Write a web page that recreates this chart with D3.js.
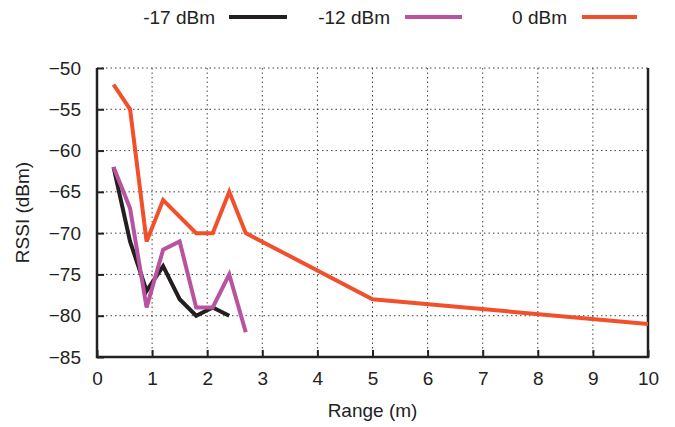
<!DOCTYPE html>
<html>
<head>
<meta charset="utf-8" />
<script src="https://cdn.jsdelivr.net/npm/d3@7"></script>
<title>rssi</title>
<style>
body { margin: 0; background: #fff; }
text { font-family: "Liberation Sans", Arial, sans-serif; fill: #222; }
</style>
</head>
<body>
<script>
// range in metres
var rangeLow = [0.3, 0.6, 0.9, 1.2, 1.5, 1.8, 2.1, 2.4];
var rssiM17 = [-62, -71, -77, -74, -78, -80, -79, -80];

var rangeMid = [0.3, 0.6, 0.9, 1.2, 1.5, 1.8, 2.1, 2.4, 2.7];
var rssiM12 = [-62, -67, -79, -72, -71, -79, -79, -75, -82];

var rangeHigh = [0.3, 0.6, 0.9, 1.2, 1.8, 2.1, 2.4, 2.7, 5, 10];
var rssi0 = [-52, -55, -71, -66, -70, -70, -65, -70, -78, -81];

var xTicks = [0, 1, 2, 3, 4, 5, 6, 7, 8, 9, 10];
var yTicks = [-85, -80, -75, -70, -65, -60, -55, -50];

var series = [
  { name: "-17 dBm", xs: rangeLow, ys: rssiM17, color: "#231f20" },
  { name: "-12 dBm", xs: rangeMid, ys: rssiM12, color: "#b9529f" },
  { name: "0 dBm", xs: rangeHigh, ys: rssi0, color: "#f1502a" }
];

var w = 675, h = 427;
var pl = 97, pr = 648, pt = 68, pb = 357;
var fs = "19px";

var svg = d3.select("body").append("svg")
  .attr("width", w)
  .attr("height", h);

var x = d3.scaleLinear().domain([0, 10]).range([pl, pr]);
var y = d3.scaleLinear().domain([-85, -50]).range([pb, pt]);

// grid
var grid = svg.append("g")
  .attr("stroke", "#444")
  .attr("stroke-width", 1)
  .attr("stroke-dasharray", "1.5,3");
grid.selectAll(".gx").data(xTicks.slice(1, -1)).enter().append("line")
  .attr("x1", d => x(d)).attr("x2", d => x(d))
  .attr("y1", pt).attr("y2", pb);
grid.selectAll(".gy").data(yTicks.slice(1)).enter().append("line")
  .attr("x1", pl).attr("x2", pr)
  .attr("y1", d => y(d)).attr("y2", d => y(d));

// axes, ticks drawn inward
var xAxis = svg.append("g")
  .attr("transform", "translate(0," + pb + ")")
  .call(d3.axisBottom(x).tickValues(xTicks).tickSizeInner(-7).tickSizeOuter(0).tickPadding(14));
var yAxis = svg.append("g")
  .attr("transform", "translate(" + pl + ",0)")
  .call(d3.axisLeft(y).tickValues(yTicks).tickSizeInner(-7).tickSizeOuter(0).tickPadding(16));

[xAxis, yAxis].forEach(function (a) {
  a.select(".domain").remove();
  a.selectAll(".tick line").attr("stroke", "#222").attr("stroke-width", 2);
  a.selectAll(".tick text")
    .attr("fill", "#222")
    .style("font-size", fs)
    .style("font-family", "'Liberation Sans', Arial, sans-serif");
});
xAxis.selectAll(".tick text").attr("dy", "0.75em");

// frame: left, bottom, right
svg.append("path")
  .attr("d", "M" + pl + "," + pt + "V" + pb + "H" + pr + "V" + pt)
  .attr("fill", "none")
  .attr("stroke", "#222")
  .attr("stroke-width", 2.5);

var line = d3.line()
  .x(d => x(d[0]))
  .y(d => y(d[1]));

series.forEach(function (s) {
  var pts = s.xs.map((v, i) => [v, s.ys[i]]);
  svg.append("path")
    .datum(pts)
    .attr("d", line)
    .attr("fill", "none")
    .attr("stroke", s.color)
    .attr("stroke-width", 4)
    .attr("stroke-linejoin", "miter");
});

// legend
var legX = [[215, 229, 287], [390, 405, 462], [567, 582, 637]];
series.forEach(function (s, i) {
  var p = legX[i];
  svg.append("text")
    .attr("x", p[0]).attr("y", 24)
    .attr("text-anchor", "end")
    .style("font-size", fs)
    .text(s.name);
  svg.append("line")
    .attr("x1", p[1]).attr("x2", p[2])
    .attr("y1", 17).attr("y2", 17)
    .attr("stroke", s.color)
    .attr("stroke-width", 4);
});

// axis titles
svg.append("text")
  .attr("x", (pl + pr) / 2).attr("y", 417)
  .attr("text-anchor", "middle")
  .style("font-size", fs)
  .text("Range (m)");
svg.append("text")
  .attr("transform", "translate(29," + (pt + pb) / 2 + ") rotate(-90)")
  .attr("text-anchor", "middle")
  .style("font-size", fs)
  .text("RSSI (dBm)");
</script>
</body>
</html>
